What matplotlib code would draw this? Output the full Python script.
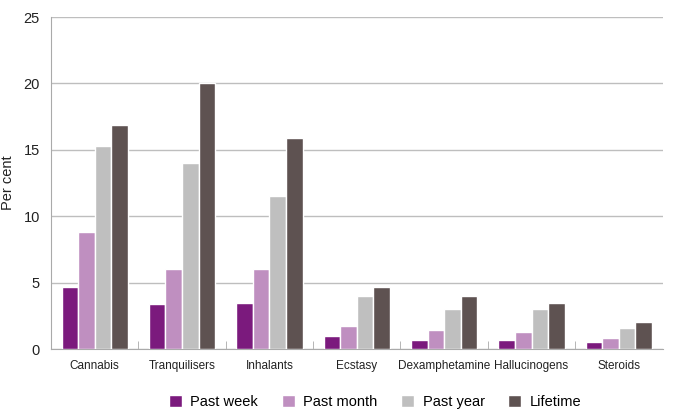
import matplotlib.pyplot as plt
import numpy as np

plt.rcParams['font.family'] = ['Liberation Sans', 'DejaVu Sans']

categories = ['Cannabis', 'Tranquilisers', 'Inhalants', 'Ecstasy',
              'Dexamphetamine', 'Hallucinogens', 'Steroids']
series_names = ['Past week', 'Past month', 'Past year', 'Lifetime']
past_week = [4.7, 3.4, 3.5, 1.0, 0.7, 0.7, 0.5]
past_month = [8.8, 6.0, 6.0, 1.7, 1.4, 1.3, 0.8]
past_year = [15.3, 14.0, 11.5, 4.0, 3.0, 3.0, 1.6]
lifetime = [16.9, 20.0, 15.9, 4.7, 4.0, 3.5, 2.0]
colors = ['#7B1A7D', '#BF8FC0', '#BFBFBF', '#5E5251']

fig = plt.figure(figsize=(6.75, 4.16), dpi=100)
ax = fig.add_axes([0.0756, 0.161, 0.906, 0.798])

x = np.arange(len(categories))
w = 0.19
for i, (vals, name) in enumerate(zip([past_week, past_month, past_year, lifetime], series_names)):
    ax.bar(x + (i - 1.5) * w, vals, w, color=colors[i], edgecolor='white',
           linewidth=1, label=name, zorder=3)

ax.set_xlim(-0.5, len(categories) - 0.5)
ax.set_ylim(0, 25)
ax.set_yticks(range(0, 26, 5))
ax.yaxis.grid(True, color='#BEBEBE', linewidth=1, zorder=0)
ax.tick_params(axis='y', length=0, labelsize=10.5, colors='#222222', pad=8)
ax.set_xticks(x)
ax.set_xticklabels(categories)
ax.set_xticks(np.arange(0.5, len(categories) - 1, 1), minor=True)
ax.tick_params(axis='x', which='major', length=0, labelsize=8.5, colors='#222222', pad=8)
ax.tick_params(axis='x', which='minor', direction='in', length=6, color='#AAAAAA')
for s in ['top', 'right']:
    ax.spines[s].set_visible(False)
ax.spines['left'].set_color('#AAAAAA')
ax.spines['bottom'].set_color('#AAAAAA')
ax.set_ylabel('Per cent', fontsize=10.5, color='#222222', labelpad=6)

ax.legend(loc='upper center', bbox_to_anchor=(0.53, -0.1), ncol=4, frameon=False,
          fontsize=10.5, handlelength=0.9, handleheight=0.9, handletextpad=0.6,
          columnspacing=1.6)

fig.savefig('out.png', dpi=100)
